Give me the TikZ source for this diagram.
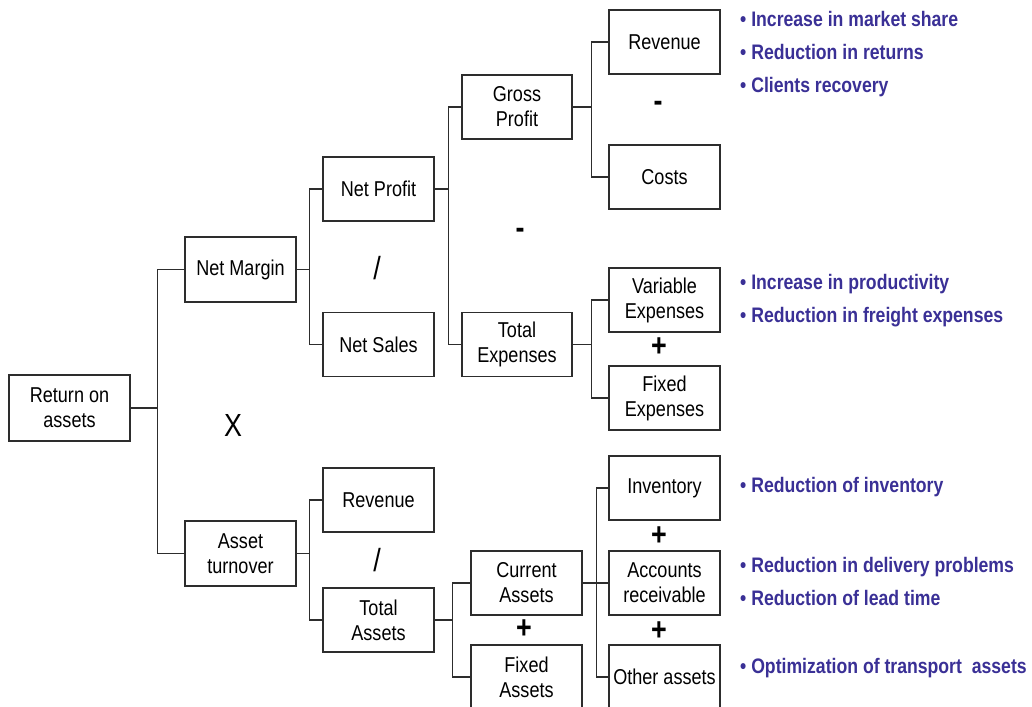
\documentclass[tikz,border=0pt]{standalone}
\usepackage{fontspec}
\setmainfont{Liberation Sans}[FakeStretch=0.84]
\definecolor{notecol}{RGB}{58,48,150}
\definecolor{edgecol}{RGB}{45,45,45}
\begin{document}
\begin{tikzpicture}[x=1pt,y=-1pt,
  box/.style={draw=edgecol, line width=1.3pt, minimum width=111pt, minimum height=64pt,
              inner sep=0pt, align=center, fill=white, font=\fontsize{21.5}{25}\selectfont},
  link/.style={draw=edgecol, line width=1.3pt},
  op/.style={inner sep=0pt, font=\fontsize{32}{32}\selectfont},
  opb/.style={inner sep=0pt, font=\fontsize{32}{32}\bfseries\selectfont},
  note/.style={anchor=base west, inner sep=0pt, text=notecol,
               font=\fontsize{21}{25}\bfseries\selectfont}]
\clip (0,0) rectangle (1032,706);
\fill[white] (0,0) rectangle (1032,706);

% level 0 and 1
\node[box, minimum width=121pt, minimum height=66pt] (roa) at (69.5,408) {Return on\\assets};
\node[box, minimum height=65pt] (nm) at (240.5,269.5) {Net Margin};
\node[box, minimum height=65pt] (at) at (240.5,553.5) {Asset\\turnover};

% level 2
\node[box] (np)  at (378.5,189)   {Net Profit};
\node[box] (ns)  at (378.5,344.5) {Net Sales};
\node[box] (rv2) at (378.5,500)   {Revenue};
\node[box] (ta)  at (378.5,620)   {Total\\Assets};

% level 3
\node[box, minimum width=110pt] (gp) at (517,107)   {Gross\\Profit};
\node[box, minimum width=110pt] (te) at (517,344.5) {Total\\Expenses};
\node[box] (ca) at (526.5,583) {Current\\Assets};
\node[box] (fa) at (526.5,677) {Fixed\\Assets};

% level 4
\node[box] (rv)  at (664.5,42)  {Revenue};
\node[box] (co)  at (664.5,177) {Costs};
\node[box] (ve)  at (664.5,300) {Variable\\Expenses};
\node[box] (fe)  at (664.5,398) {Fixed\\Expenses};
\node[box] (inv) at (664.5,488) {Inventory};
\node[box] (ar)  at (664.5,583) {Accounts\\receivable};
\node[box] (oa)  at (664.5,677) {Other assets};

% elbow connectors
\draw[link] (roa.east) -- ++(27,0) coordinate (j0) |- (nm.west);
\draw[link] (j0) |- (at.west);
\draw[link] (nm.east) -- ++(13,0) coordinate (j1) |- (np.west);
\draw[link] (j1) |- (ns.west);
\draw[link] (at.east) -- ++(13,0) coordinate (j2) |- (rv2.west);
\draw[link] (j2) |- (ta.west);
\draw[link] (np.east) -- ++(14,0) coordinate (j3) |- (gp.west);
\draw[link] (j3) |- (te.west);
\draw[link] (gp.east) -- ++(19,0) coordinate (j4) |- (rv.west);
\draw[link] (j4) |- (co.west);
\draw[link] (te.east) -- ++(19,0) coordinate (j5) |- (ve.west);
\draw[link] (j5) |- (fe.west);
\draw[link] (ta.east) -- ++(18,0) coordinate (j6) |- (ca.west);
\draw[link] (j6) |- (fa.west);
\draw[link] (ca.east) -- ++(14,0) coordinate (j7) |- (inv.west);
\draw[link] (j7) |- (ar.west);
\draw[link] (j7) |- (oa.west);

% operators
\node[op]  (xop) at (233,425) {X};
\node[op]  (d1)  at (377,268) {/};
\node[op]  (d2)  at (377,560) {/};
\node[opb] (m1)  at (520,233) {-};
\node[opb] (m2)  at (658,106) {-};
\node[opb] (p1)  at (659,347) {+};
\node[opb] (p2)  at (524,629) {+};
\node[opb] (p3)  at (659,536) {+};
\node[opb] (p4)  at (659,631) {+};

% improvement notes
\node[note] (n1) at (740,27)  {• Increase in market share};
\node[note] (n2) at (740,60)  {• Reduction in returns};
\node[note] (n3) at (740,93)  {• Clients recovery};
\node[note] (n4) at (740,289) {• Increase in productivity};
\node[note] (n5) at (740,322) {• Reduction in freight expenses};
\node[note] (n6) at (740,492) {• Reduction of inventory};
\node[note] (n7) at (740,572) {• Reduction in delivery problems};
\node[note] (n8) at (740,605) {• Reduction of lead time};
\node[note] (n9) at (740,673) {• Optimization of transport\ \ assets};
\end{tikzpicture}
\end{document}
